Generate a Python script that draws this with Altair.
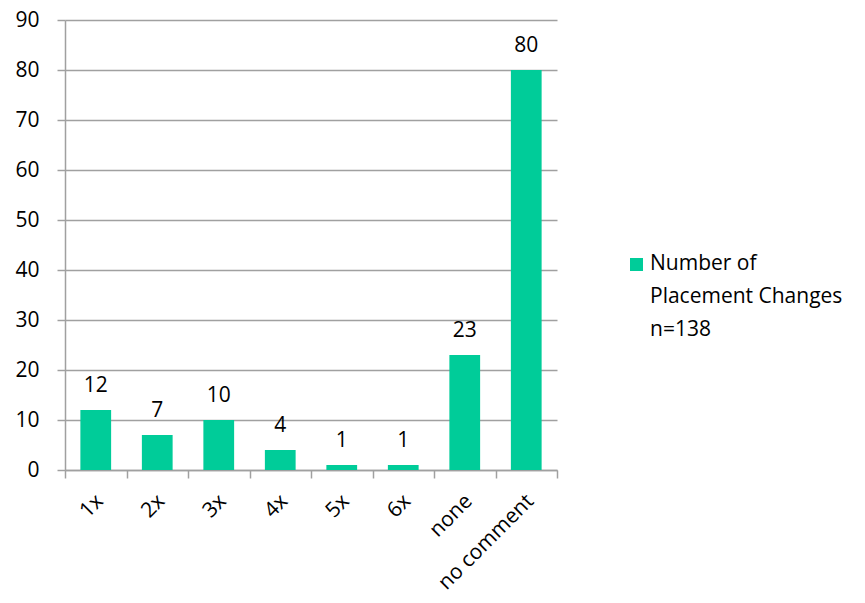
import altair as alt
import pandas as pd

categories = ["1x", "2x", "3x", "4x", "5x", "6x", "none", "no comment"]
values = [12, 7, 10, 4, 1, 1, 23, 80]
series_name = "Number of\nPlacement Changes\nn=138"

df = pd.DataFrame({"category": categories, "value": values})
legend_df = pd.DataFrame({"series": [series_name]})

FONT = "Open Sans"
FS = 21
GREEN = "#00CC99"
GRAY = "#A0A0A0"

x = alt.X("category:N", sort=categories, title=None,
          scale=alt.Scale(paddingInner=0, paddingOuter=0),
          axis=alt.Axis(labelAngle=-45, tickBand="extent", tickSize=8,
                        domainColor=GRAY, tickColor=GRAY, domainWidth=1.5, tickWidth=1.5,
                        labelFont=FONT, labelFontSize=FS, labelColor="#000000",
                        labelPadding=12, labelOffset=-4, grid=False))
y = alt.Y("value:Q", title=None,
          scale=alt.Scale(domain=[0, 90], nice=False),
          axis=alt.Axis(values=list(range(0, 91, 10)), tickSize=8, labelPadding=18,
                        domainColor=GRAY, tickColor=GRAY, gridColor=GRAY,
                        domainWidth=1.5, tickWidth=1.5, gridWidth=1.5,
                        labelFont=FONT, labelFontSize=FS, labelColor="#000000", grid=True))

bars = alt.Chart(df).mark_bar(width=alt.RelativeBandSize(0.5), color=GREEN).encode(x=x, y=y)
labels = alt.Chart(df).mark_text(baseline="bottom", dy=-14, font=FONT, fontSize=FS,
                                 color="#000000").encode(
    x=alt.X("category:N", sort=categories), y="value:Q", text="value:Q")

leg_sq = alt.Chart(legend_df).mark_square(size=169, color=GREEN, opacity=1).encode(
    x=alt.value(571.5), y=alt.value(244.5))
leg_txt = alt.Chart(legend_df).mark_text(align="left", baseline="middle", font=FONT,
                                         fontSize=FS, lineBreak="\n", lineHeight=33,
                                         color="#000000").encode(
    x=alt.value(585), y=alt.value(244), text="series:N")

chart = alt.layer(bars, labels, leg_sq, leg_txt).properties(
    width=492, height=450,
    autosize=alt.AutoSizeParams(type="none"),
    padding={"left": 57, "top": 12, "right": 290, "bottom": 125},
).configure_view(stroke=None)

chart.save("out.html", embed_options={"renderer": "svg", "actions": False})
